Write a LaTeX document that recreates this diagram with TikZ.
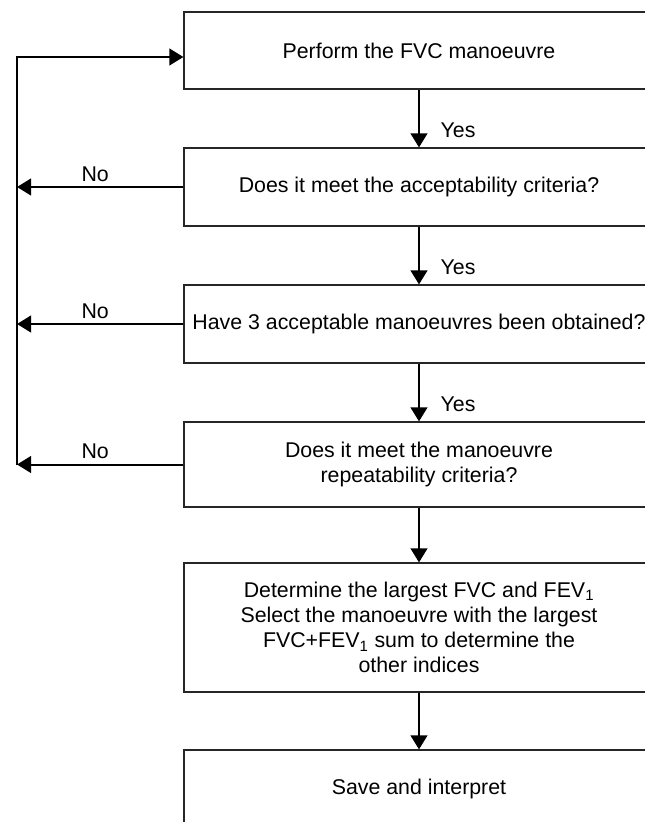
\documentclass[tikz,border=0pt]{standalone}
\usepackage{fontspec}
\setmainfont{Liberation Sans}
\usetikzlibrary{arrows.meta}
\begin{document}
\begin{tikzpicture}[x=0.75pt, y=-0.75pt,
  font=\fontsize{16}{18.8}\selectfont,
  blk/.style={draw=black!85, line width=0.9pt, align=center, minimum width=352.5pt, inner sep=2pt},
  flow/.style={draw=black, line width=1.5pt, -{Triangle[width=12.5pt,length=10.5pt]}},
  lbl/.style={inner sep=2pt},
  nao/.style={lbl, midway, above=1.5pt, xshift=-3.75pt},
]
  \useasboundingbox (0,0) rectangle (645,822);
  \node[blk, minimum height=57.75pt] (b1) at (419,50.5) {Perform the FVC manoeuvre};
  \node[blk, minimum height=58.5pt] (b2) at (419,187) {Does it meet the acceptability criteria?};
  \node[blk, minimum height=58.5pt] (b3) at (419,324) {Have 3 acceptable manoeuvres been obtained?};
  \node[blk, minimum height=63.75pt] (b4) at (419,464.5) {Does it meet the manoeuvre\\repeatability criteria?};
  \node[blk, minimum height=96.75pt] (b5) at (419,627.5) {Determine the largest FVC and FEV\textsubscript{1}\\Select the manoeuvre with the largest\\FVC+FEV\textsubscript{1} sum to determine the\\other indices};
  \node[blk, minimum height=57.75pt] (b6) at (419,788.5) {Save and interpret};
  \coordinate (loop) at (17,57);
  \draw[flow] (b1) -- (b2) node[lbl, pos=0.7, right=13.5pt] {Yes};
  \draw[flow] (b2) -- (b3) node[lbl, pos=0.7, right=13.5pt] {Yes};
  \draw[flow] (b3) -- (b4) node[lbl, pos=0.7, right=13.5pt] {Yes};
  \draw[flow] (b4) -- (b5);
  \draw[flow] (b5) -- (b6);
  \draw[flow] (b2.west) -- (b2.west -| loop) node[nao] {No};
  \draw[flow] (b3.west) -- (b3.west -| loop) node[nao] {No};
  \draw[flow] (b4.west) -- (b4.west -| loop) node[nao] {No};
  \draw[flow] (b4.west -| loop) -- (loop) -- (loop -| b1.west);
\end{tikzpicture}
\end{document}
